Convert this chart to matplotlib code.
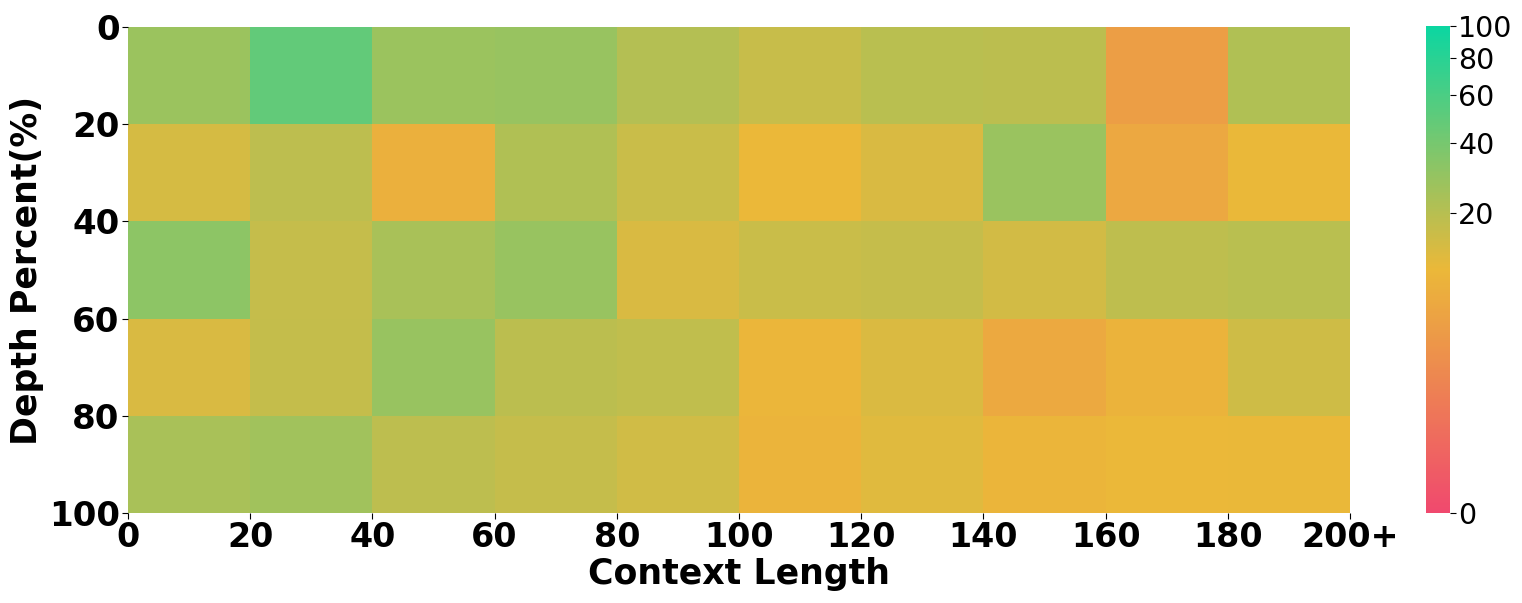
import numpy as np
import matplotlib
matplotlib.use("Agg")
import matplotlib.pyplot as plt
from matplotlib.colors import LinearSegmentedColormap, PowerNorm

context_labels = ["0", "20", "40", "60", "80", "100", "120", "140", "160", "180", "200+"]
depth_labels = ["0", "20", "40", "60", "80", "100"]

row_0_20 = [27.6, 48.5, 27.6, 28.5, 20.7, 16.1, 19.3, 19.0, 4.1, 21.7]
row_20_40 = [13.6, 18.5, 7.7, 21.7, 16.0, 9.9, 12.8, 28.0, 5.9, 10.0]
row_40_60 = [31.6, 16.7, 23.3, 28.5, 13.0, 16.0, 16.5, 14.1, 18.3, 19.3]
row_60_80 = [12.8, 17.0, 28.5, 18.8, 17.8, 9.3, 12.7, 6.0, 8.5, 15.0]
row_80_100 = [23.5, 26.0, 18.5, 16.5, 14.5, 8.8, 11.8, 9.0, 9.8, 10.0]

data = np.array([row_0_20, row_20_40, row_40_60, row_60_80, row_80_100])

cmap = LinearSegmentedColormap.from_list("pyt", ["#F0496E", "#EBB839", "#0CD6A1"])
norm = PowerNorm(gamma=0.3, vmin=0, vmax=100)

fig = plt.figure(figsize=(15.22, 6.03), dpi=100)
ax = fig.add_axes([128/1522, 1-513/603, (1350-128)/1522, (513-27)/603])
cax = fig.add_axes([1426/1522, 1-513/603, 24/1522, (513-26)/603])

mesh = ax.pcolormesh(np.arange(data.shape[1]+1), np.arange(data.shape[0]+1), data,
                     cmap=cmap, norm=norm, edgecolors="face", linewidth=0)
ax.set_xlim(0, data.shape[1])
ax.set_ylim(data.shape[0], 0)
for s in ax.spines.values():
    s.set_visible(False)

ax.set_xticks(np.arange(len(context_labels)))
ax.set_xticklabels(context_labels, fontsize=24, fontweight="bold")
ax.set_yticks(np.arange(len(depth_labels)))
ax.set_yticklabels(depth_labels, fontsize=24.5, fontweight="bold")
ax.tick_params(axis="both", length=4, width=0.8, pad=2)
ax.set_xlabel("Context Length", fontsize=25, fontweight="bold", labelpad=2)
ax.set_ylabel("Depth Percent(%)", fontsize=25, fontweight="bold", labelpad=3)

cb = fig.colorbar(mesh, cax=cax)
cb.set_ticks([0, 20, 40, 60, 80, 100])
cb.ax.tick_params(labelsize=20.5, length=4, width=0.8, pad=2)
cb.outline.set_visible(False)

fig.savefig("out.png", dpi=100)
